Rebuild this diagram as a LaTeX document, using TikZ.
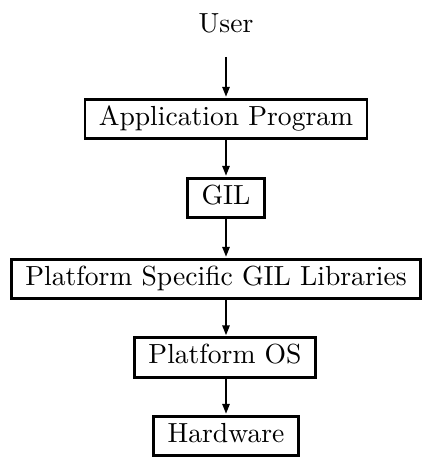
\documentclass[tikz,border=0pt]{standalone}
\usetikzlibrary{arrows.meta}
\tikzset{
  layer/.style={draw, line width=1.05pt, inner xsep=5pt, inner ysep=0pt,
    text height=7.2pt, text depth=2.6pt, minimum height=14.4pt},
  flow/.style={line width=0.72pt, -{Triangle[length=3.6pt,width=2.6pt]}, shorten >=0.3pt}
}
\begin{document}
\begin{tikzpicture}[x=0.3623pt, y=-0.3623pt]
  \useasboundingbox (0,0) rectangle (433,457);
  \node[anchor=base] (user) at (226,33) {User};
  \coordinate (ustart) at (226,57);
  \node[layer] (app) at (226,119) {Application Program};
  \node[layer] (gil) at (226,198) {GIL};
  \node[layer] (psgl) at (216,279) {Platform Specific GIL Libraries};
  \node[layer] (os) at (225,357.5) {Platform OS};
  \node[layer] (hw) at (226,436) {Hardware};
  \draw[flow] (ustart) -- (app.north);
  \draw[flow] (app.south) -- (gil.north);
  \draw[flow] (gil.south) -- (psgl.north -| gil.south);
  \draw[flow] (psgl.south -| gil.south) -- (os.north -| gil.south);
  \draw[flow] (os.south -| gil.south) -- (hw.north);
\end{tikzpicture}
\end{document}
